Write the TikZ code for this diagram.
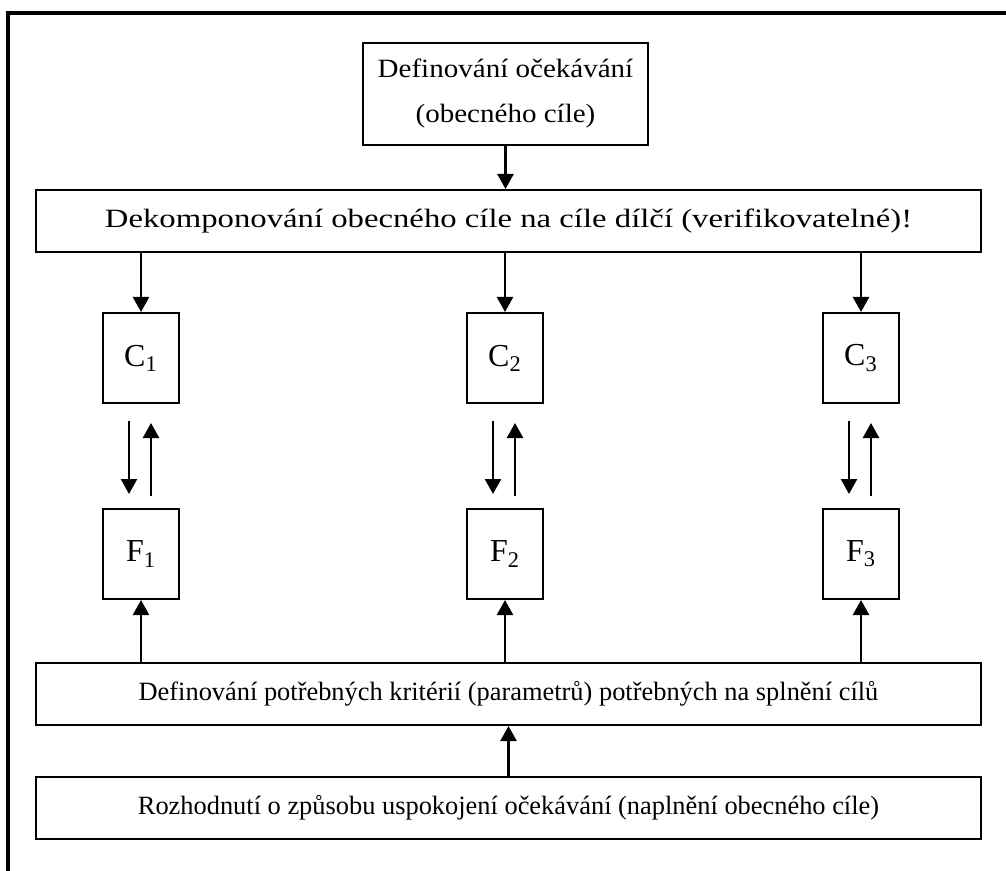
\documentclass[tikz,border=0pt]{standalone}
\usepackage{fontspec}
\setmainfont{Liberation Serif}
\newfontfamily\widefont[FakeStretch=1.24]{Liberation Serif}
\newfontfamily\halfwidefont[FakeStretch=1.1]{Liberation Serif}
\usetikzlibrary{arrows.meta}

\begin{document}
\begin{tikzpicture}[x=0.5pt,y=-0.5pt]
	\tikzset{box/.style={draw,line width=1pt,inner sep=0pt,align=center,font=\fontsize{13.2}{22.5}\selectfont},
		wide box/.style={box,minimum width=472.5pt,minimum height=31pt},
		letter box/.style={box,minimum width=38pt,minimum height=45pt,font=\fontsize{16}{19}\selectfont},
		arc lines/.style={line width=1.2pt,black,-{Triangle[length=7.5pt,width=8pt]}}}
	\useasboundingbox (0,0) rectangle (1006,871);
	% frame, cut off on the right and at the bottom
	\draw[line width=1.6pt] (8,871) -- (8,13) -- (1006,13);

	\node[box,minimum width=142.5pt,minimum height=51pt,font=\halfwidefont\fontsize{13.2}{22.5}\selectfont] (goal) at (505.5,94) {Definování očekávání\\(obecného cíle)};
	\node[wide box,font=\widefont\fontsize{13.2}{19}\selectfont] (decomp) at (508.5,221) {Dekomponování obecného cíle na cíle dílčí (verifikovatelné)!};
	\node[wide box] (crit) at (508.5,694) {Definování potřebných kritérií (parametrů) potřebných na splnění cílů};
	\node[wide box] (decision) at (508.5,808) {Rozhodnutí o způsobu uspokojení očekávání (naplnění obecného cíle)};

	\node[letter box] (c1) at (141,358) {C\textsubscript{1}};
	\node[letter box] (c2) at (505,358) {C\textsubscript{2}};
	\node[letter box] (c3) at (861,358) {C\textsubscript{3}};
	\node[letter box] (f1) at (141,554) {F\textsubscript{1}};
	\node[letter box] (f2) at (505,554) {F\textsubscript{2}};
	\node[letter box] (f3) at (861,554) {F\textsubscript{3}};

	\draw[arc lines] (goal.south) -- (goal.south |- decomp.north);
	\draw[arc lines] (decision.north -| crit.south) -- (crit.south);
	\foreach \i in {1,2,3} {
		\draw[arc lines] (decomp.south -| c\i.north) -- (c\i.north);
		\draw[arc lines] ([xshift=-6pt,yshift=-8.5pt]c\i.south) -- ([xshift=-6pt,yshift=7pt]f\i.north);
		\draw[arc lines] ([xshift=5pt,yshift=6pt]f\i.north) -- ([xshift=5pt,yshift=-9.5pt]c\i.south);
		\draw[arc lines] (crit.north -| f\i.south) -- (f\i.south);
	}
\end{tikzpicture}
\end{document}
